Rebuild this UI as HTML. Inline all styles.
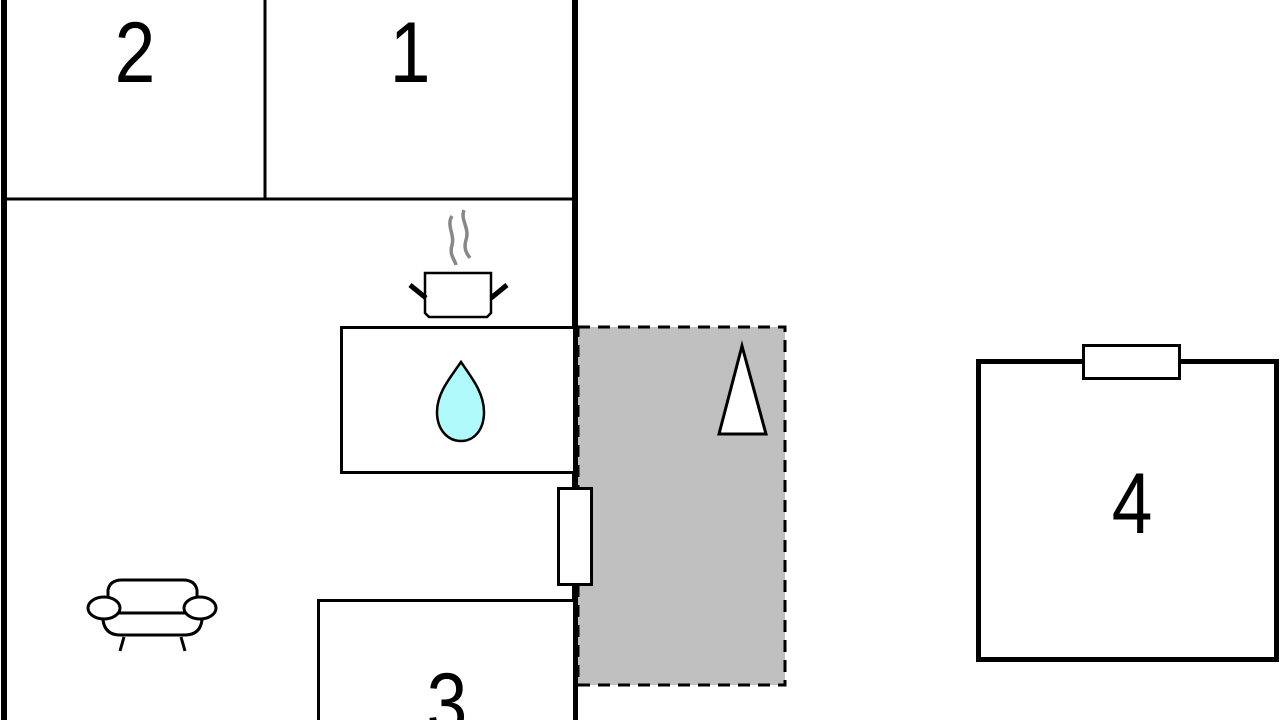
<!DOCTYPE html>
<html><head><meta charset="utf-8"><style>
html,body{margin:0;padding:0;background:#fff;width:1280px;height:720px;overflow:hidden}
svg{display:block}
text{font-family:"Liberation Sans",sans-serif;fill:#000}
</style></head><body>
<svg width="1280" height="720" viewBox="0 0 1280 720" xmlns="http://www.w3.org/2000/svg">
<rect x="578" y="327" width="207" height="358" fill="#c0c0c0" stroke="#000" stroke-width="3" stroke-dasharray="12,8"/>
<line x1="4" y1="0" x2="4" y2="720" stroke="#000" stroke-width="6"/>
<line x1="575" y1="0" x2="575" y2="720" stroke="#000" stroke-width="6"/>
<line x1="4" y1="199" x2="575" y2="199" stroke="#000" stroke-width="3"/>
<line x1="265" y1="0" x2="265" y2="199" stroke="#000" stroke-width="3"/>
<rect x="341.5" y="327.5" width="233" height="145" fill="#fff" stroke="#000" stroke-width="3"/>
<rect x="318.5" y="600.5" width="256" height="140" fill="#fff" stroke="#000" stroke-width="3"/>
<rect x="558.5" y="488.5" width="33" height="96" fill="#fff" stroke="#000" stroke-width="3"/>
<polygon points="742,346 766,434 719,434" fill="#fff" stroke="#000" stroke-width="3"/>
<rect x="978.5" y="361.5" width="298" height="298" fill="#fff" stroke="#000" stroke-width="5"/>
<rect x="1083.5" y="345.5" width="96" height="33" fill="#fff" stroke="#000" stroke-width="3"/>
<g transform="scale(0.85,1)">
<text x="158.8" y="82" font-size="86" text-anchor="middle">2</text>
<text x="482.4" y="82" font-size="86" text-anchor="middle">1</text>
<text x="1331.8" y="533" font-size="86" text-anchor="middle">4</text>
<text x="525.9" y="733" font-size="86" text-anchor="middle">3</text>
</g>
<!-- pot -->
<path d="M425,273 H491 V313 L487,317 H429 L425,313 Z" fill="#fff" stroke="#000" stroke-width="2.5"/>
<line x1="410" y1="285" x2="426" y2="298" stroke="#000" stroke-width="5"/>
<line x1="507" y1="285" x2="491" y2="298" stroke="#000" stroke-width="5"/>
<path d="M452,216 C446,225 455,235 452,245 C449,255 455,260 456,265" fill="none" stroke="#888" stroke-width="3.5"/>
<path d="M464,210 C460,220 470,228 466,240 C463,250 468,255 470,258" fill="none" stroke="#888" stroke-width="3.5"/>
<!-- drop -->
<path d="M461,362 C450,378 437,393 437,412 C437,430 448,441 461,441 C474,441 484,430 484,412 C484,393 472,378 461,362 Z" fill="#b0fafc" stroke="#000" stroke-width="2.5"/>
<!-- sofa -->
<g fill="#fff" stroke="#000" stroke-width="3">
<path d="M108,603 V590 Q110,580 122,580 H183 Q195,580 197,590 V603"/>
<path d="M103,616 V620 Q105,635 120,635 H185 Q200,635 202,620 V616"/>
<line x1="115" y1="613" x2="190" y2="613"/>
<ellipse cx="104" cy="608" rx="16" ry="11"/>
<ellipse cx="200" cy="608" rx="16" ry="11"/>
<line x1="124" y1="637" x2="120" y2="651"/>
<line x1="181" y1="637" x2="185" y2="651"/>
</g>
</svg>
</body></html>
